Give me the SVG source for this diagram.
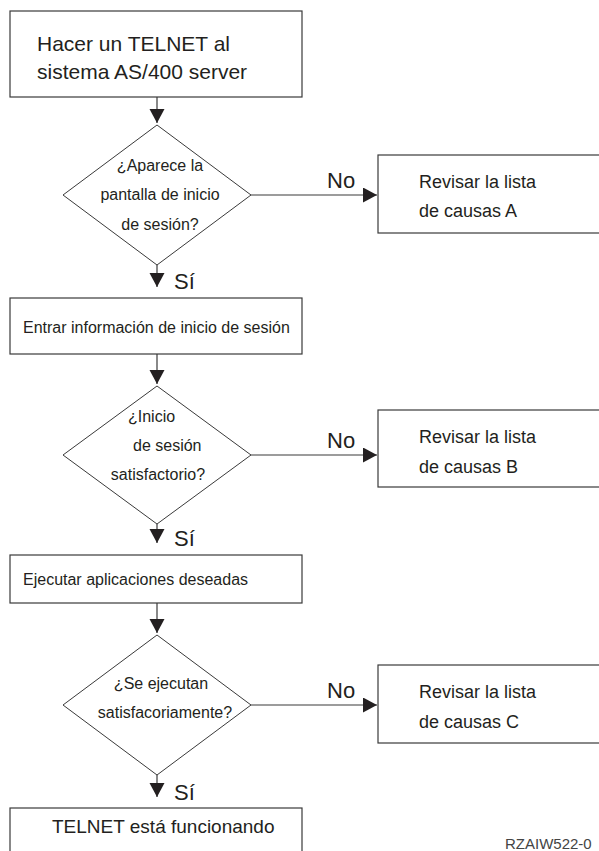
<svg xmlns="http://www.w3.org/2000/svg" width="599" height="851" viewBox="0 0 599 851">
<defs>
<style>
.box{fill:#fff;stroke:#3a3a3a;stroke-width:1.2}
.dia{fill:#fff;stroke:#3a3a3a;stroke-width:1}
.ln{fill:none;stroke:#3a3a3a;stroke-width:1.2}
text{font-family:"Liberation Sans",Arial,sans-serif;fill:#231f20}
.t21{font-size:21px}
.t16{font-size:16px}
.t18{font-size:18px}
.t19{font-size:19px}
.lbl{font-size:22px}
.mid{text-anchor:middle}
.id{font-size:15px;fill:#444}
</style>
<marker id="ah" markerUnits="userSpaceOnUse" markerWidth="15" markerHeight="16" refX="14" refY="7.5" orient="auto">
<path d="M0,0 L14,7.5 L0,15 Z" fill="#231f20"/>
</marker>
</defs>
<rect width="599" height="851" fill="#fff"/>

<g id="connectors">
<line class="ln" x1="157" y1="97" x2="157" y2="123" marker-end="url(#ah)"/>
<line class="ln" x1="157" y1="265" x2="157" y2="287" marker-end="url(#ah)"/>
<line class="ln" x1="251" y1="195" x2="377" y2="195" marker-end="url(#ah)"/>
<line class="ln" x1="157" y1="354" x2="157" y2="384" marker-end="url(#ah)"/>
<line class="ln" x1="157" y1="524" x2="157" y2="543" marker-end="url(#ah)"/>
<line class="ln" x1="251" y1="455" x2="377" y2="455" marker-end="url(#ah)"/>
<line class="ln" x1="157" y1="603" x2="157" y2="633" marker-end="url(#ah)"/>
<line class="ln" x1="157" y1="775" x2="157" y2="797" marker-end="url(#ah)"/>
<line class="ln" x1="251" y1="705" x2="377" y2="705" marker-end="url(#ah)"/>
<text class="lbl" x="327" y="188">No</text>
<text class="lbl" x="174" y="289">Sí</text>
<text class="lbl" x="327" y="448">No</text>
<text class="lbl" x="174" y="546">Sí</text>
<text class="lbl" x="327" y="698">No</text>
<text class="lbl" x="174" y="800">Sí</text>
</g>

<g id="n-telnet">
<rect class="box" x="10" y="11" width="292" height="86"/>
<text class="t21" x="37" y="51">Hacer un TELNET al</text>
<text class="t21" x="37" y="79">sistema AS/400 server</text>
</g>

<g id="d-aparece">
<polygon class="dia" points="157,125 251,195 157,265 63,195"/>
<text class="t16 mid" x="160" y="171">¿Aparece la</text>
<text class="t16 mid" x="160" y="200">pantalla de inicio</text>
<text class="t16 mid" x="160" y="230">de sesión?</text>
</g>

<g id="n-causasA">
<rect class="box" x="378" y="155" width="240" height="78"/>
<text class="t18" x="419" y="188">Revisar la lista</text>
<text class="t18" x="419" y="217">de causas A</text>
</g>

<g id="n-entrar">
<rect class="box" x="10" y="298" width="292" height="56"/>
<text class="t16" x="23" y="333">Entrar información de inicio de sesión</text>
</g>

<g id="d-inicio">
<polygon class="dia" points="157,386 251,455 157,524 63,455"/>
<text class="t16" x="128" y="422">¿Inicio</text>
<text class="t16" x="133" y="451">de sesión</text>
<text class="t16 mid" x="158" y="480">satisfactorio?</text>
</g>

<g id="n-causasB">
<rect class="box" x="378" y="410" width="240" height="77"/>
<text class="t18" x="419" y="443">Revisar la lista</text>
<text class="t18" x="419" y="473">de causas B</text>
</g>

<g id="n-ejecutar">
<rect class="box" x="10" y="555" width="292" height="48"/>
<text class="t16" x="23" y="585">Ejecutar aplicaciones deseadas</text>
</g>

<g id="d-ejecutan">
<polygon class="dia" points="157,635 251,705 157,775 63,705"/>
<text class="t16 mid" x="161" y="689">¿Se ejecutan</text>
<text class="t16 mid" x="165" y="718">satisfacoriamente?</text>
</g>

<g id="n-causasC">
<rect class="box" x="378" y="665" width="240" height="78"/>
<text class="t18" x="419" y="698">Revisar la lista</text>
<text class="t18" x="419" y="728">de causas C</text>
</g>

<g id="n-funcionando">
<rect class="box" x="10" y="808" width="292" height="60"/>
<text class="t19" x="52" y="833">TELNET está funcionando</text>
</g>

<text class="id" x="505" y="849">RZAIW522-0</text>
</svg>
